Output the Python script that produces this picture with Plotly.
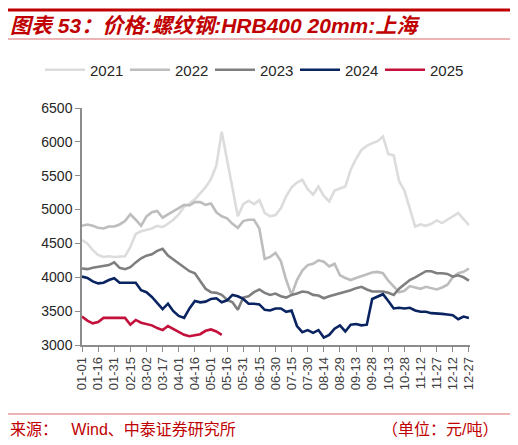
import plotly.graph_objects as go

# x grid: one reading every 5 days (month-day, plotted on a dummy non-leap year)
DATES = [
    "01-01", "01-06", "01-11", "01-16", "01-21", "01-26", "01-31", "02-05", "02-10", "02-15",
    "02-20", "02-25", "03-02", "03-07", "03-12", "03-17", "03-22", "03-27", "04-01", "04-06",
    "04-11", "04-16", "04-21", "04-26", "05-01", "05-06", "05-11", "05-16", "05-21", "05-26",
    "05-31", "06-05", "06-10", "06-15", "06-20", "06-25", "06-30", "07-05", "07-10", "07-15",
    "07-20", "07-25", "07-30", "08-04", "08-09", "08-14", "08-19", "08-24", "08-29", "09-03",
    "09-08", "09-13", "09-18", "09-23", "09-28", "10-03", "10-08", "10-13", "10-18", "10-23",
    "10-28", "11-02", "11-07", "11-12", "11-17", "11-22", "11-27", "12-02", "12-07", "12-12",
    "12-17", "12-22", "12-27",
]

TICK_LABELS = [
    "01-01", "01-16", "01-31", "02-15", "03-02", "03-17", "04-01", "04-16", "05-01",
    "05-16", "05-31", "06-15", "06-30", "07-15", "07-30", "08-14", "08-29", "09-13",
    "09-28", "10-13", "10-28", "11-12", "11-27", "12-12", "12-27",
]

Y2021 = [
    4550, 4500, 4400, 4330, 4300, 4310, 4300, 4300, 4310, 4450,
    4640, 4680, 4700, 4720, 4760, 4740, 4790, 4850, 4930, 5040,
    5090, 5150, 5240, 5330, 5450, 5650, 6150, 5750, 5300, 4900,
    5080, 5130, 5080, 5140, 4950, 4900, 4920, 5020, 5200, 5330,
    5400, 5440, 5300, 5220, 5340, 5200, 5120, 5280, 5310, 5340,
    5590, 5750, 5880, 5940, 5980, 6010, 6080, 5820, 5800, 5420,
    5280, 5000, 4750, 4780, 4760, 4790, 4840, 4800, 4850, 4900,
    4950, 4860, 4770,
]

Y2022 = [
    4760, 4780, 4760, 4730, 4720, 4750, 4750, 4780, 4830, 4930,
    4850, 4760, 4900, 4960, 4980, 4880, 4930, 4970, 5020, 5070,
    5060, 5110, 5110, 5070, 5090, 4960, 4900, 4870, 4790, 4730,
    4830, 4850, 4850, 4720, 4270, 4300, 4360, 4240, 3960, 3740,
    3960, 4100, 4180, 4200, 4250, 4230, 4160, 4200, 4030, 3990,
    3960, 3990, 4020, 4050, 4070, 4080, 4060, 3950, 3860, 3780,
    3800, 3870, 3850, 3830, 3860, 3840, 3820, 3850, 3890, 4000,
    4060, 4080, 4130,
]

Y2023 = [
    4130, 4120, 4140, 4150, 4160, 4180, 4220, 4140, 4120, 4150,
    4220, 4280, 4320, 4340, 4390, 4420, 4320, 4260, 4200, 4150,
    4090, 4060, 3950, 3830, 3780, 3770, 3740, 3670, 3630, 3520,
    3700, 3720, 3780, 3820, 3770, 3740, 3760, 3720, 3700, 3740,
    3760, 3790, 3780, 3740, 3730, 3690, 3720, 3740, 3770, 3790,
    3810, 3840, 3860, 3820, 3790, 3790, 3790, 3770, 3740, 3830,
    3900, 3960, 4000, 4040, 4090, 4090, 4060, 4060, 4050, 4010,
    4030, 4000, 3950,
]

Y2024 = [
    4010, 3990, 3940, 3910, 3920, 3960, 3985, 3920, 3920, 3920,
    3920, 3810, 3780, 3710, 3620, 3530, 3610, 3500, 3430, 3400,
    3540, 3650, 3630, 3640, 3680, 3690, 3630, 3660, 3740, 3720,
    3680, 3610, 3610, 3600, 3520, 3510, 3540, 3540, 3490, 3510,
    3280, 3190, 3220, 3180, 3220, 3110, 3150, 3240, 3290, 3200,
    3300, 3310, 3290, 3300, 3680, 3720, 3750, 3650, 3540, 3550,
    3540, 3550, 3510, 3490, 3490, 3470, 3470, 3460, 3450, 3440,
    3380, 3420, 3400,
]

Y2025 = [
    3420, 3360, 3320, 3340, 3400, 3400, 3400, 3400, 3400, 3300,
    3370, 3330, 3310, 3290, 3250, 3220, 3280, 3240, 3190, 3150,
    3130, 3150, 3160, 3210, 3230, 3200, 3150,
]

SERIES = [
    ("2021", Y2021, "#dcdcdc"),
    ("2022", Y2022, "#bdbdbd"),
    ("2023", Y2023, "#7f7f7f"),
    ("2024", Y2024, "#0a2461"),
    ("2025", Y2025, "#c3113b"),
]

FONT = "Arial, 'Liberation Sans', 'Noto Sans CJK SC', sans-serif"
RED = "#c00000"

# the page has an 8px body margin, so the figure is drawn 8px in from the window edge
OFF = 8
FW, FH = 518 - OFF, 445 - OFF
# plot area in window pixels: x 82..470, y 108..345
L, R, T, B = 82 - OFF, 518 - 470, 108 - OFF, 445 - 345
W = FW - L - R
H = FH - T - B


def px(xp):
    return (max(xp - OFF, 0) - L) / W


def py(yp):
    return (FH - B - max(yp - OFF, 0)) / H


fig = go.Figure()
x_all = ["2021-" + d for d in DATES]
for name, vals, color in SERIES:
    fig.add_trace(go.Scatter(
        x=x_all[:len(vals)], y=vals, name=name, mode="lines",
        line=dict(color=color, width=2.6),
    ))

fig.update_layout(
    width=FW, height=FH,
    margin=dict(l=L, r=R, t=T, b=B, autoexpand=False),
    paper_bgcolor="white", plot_bgcolor="white",
    font=dict(family=FONT, color="#262626"),
    showlegend=True,
    legend=dict(
        orientation="h", xref="paper", yref="paper",
        x=px(40), xanchor="left", y=py(70), yanchor="middle",
        font=dict(size=15, color="#262626"),
        itemwidth=40, entrywidth=30, traceorder="normal",
        bgcolor="rgba(0,0,0,0)",
    ),
)

fig.update_xaxes(
    type="date",
    range=["2021-01-01", "2021-12-28"],
    tickvals=["2021-" + t for t in TICK_LABELS],
    ticktext=TICK_LABELS,
    tickangle=-90,
    tickfont=dict(size=13, color="#404040"),
    showline=True, linecolor="#8c8c8c", linewidth=1.5,
    ticks="outside", ticklen=5, tickcolor="#8c8c8c",
    showgrid=False, zeroline=False,
)
fig.update_yaxes(
    range=[3000, 6500], dtick=500,
    tickfont=dict(size=14, color="#262626"),
    showline=True, linecolor="#8c8c8c", linewidth=1.5,
    ticks="outside", ticklen=5, tickcolor="#8c8c8c",
    showgrid=False, zeroline=False,
)

# decorative rules: thick top bar, thin line under the title, line above the source
fig.add_shape(type="line", xref="paper", yref="paper",
              x0=px(5), x1=px(512), y0=py(10), y1=py(10),
              line=dict(color=RED, width=3))
fig.add_shape(type="line", xref="paper", yref="paper",
              x0=px(5), x1=px(512), y0=py(39), y1=py(39),
              line=dict(color="#d96b6b", width=1))
fig.add_shape(type="line", xref="paper", yref="paper",
              x0=px(5), x1=px(512), y0=py(414), y1=py(414),
              line=dict(color="#d96b6b", width=1))

fig.add_annotation(
    text="<b><i>图表 53：价格:螺纹钢:HRB400 20mm:上海</i></b>",
    xref="paper", yref="paper", x=px(5), y=py(25),
    xanchor="left", yanchor="middle", showarrow=False,
    font=dict(size=21, color=RED, family=FONT),
)
fig.add_annotation(
    text="来源：   Wind、中泰证券研究所",
    xref="paper", yref="paper", x=px(5), y=py(429),
    xanchor="left", yanchor="middle", showarrow=False,
    font=dict(size=16, color=RED, family=FONT),
)
fig.add_annotation(
    text="（单位：元/吨）",
    xref="paper", yref="paper", x=px(500), y=py(429),
    xanchor="right", yanchor="middle", showarrow=False,
    font=dict(size=16, color=RED, family=FONT),
)

fig.write_html("out.html")
